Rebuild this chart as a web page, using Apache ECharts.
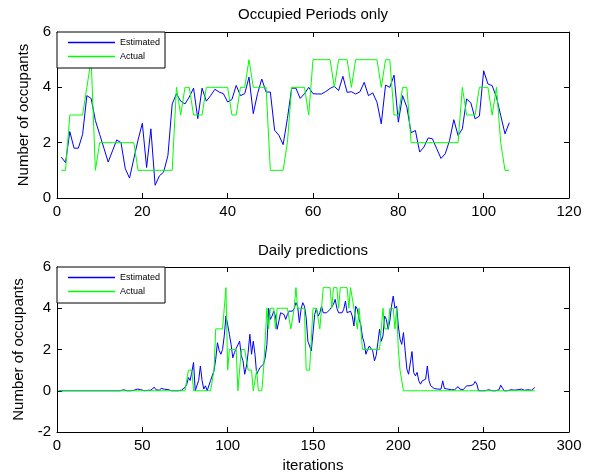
<!DOCTYPE html>
<html>
<head>
<meta charset="utf-8">
<script src="https://cdn.jsdelivr.net/npm/echarts@6/dist/echarts.min.js"></script>
<style>html,body{margin:0;padding:0;background:#fff;}#c{width:600px;height:475px;}</style>
</head>
<body>
<div id="c"></div>
<script>
// ---- Data ----
const topTitle = 'Occupied Periods only';
const bottomTitle = 'Daily predictions';
const seriesNames = ['Estimated', 'Actual'];
const yName = 'Number of occupants';
const xName = 'iterations';

// Top plot: occupied periods, x = 1..106
const occEstimated = [
  1.48,1.28,2.4,1.8,1.8,2.3,3.7,3.6,2.8,2.3,
  1.8,1.3,1.7,2.1,2.0,1.06,0.72,1.42,2.1,2.7,
  1.1,2.5,0.46,0.8,0.94,1.54,3.4,3.77,3.5,3.4,
  3.65,3.97,2.87,3.97,3.5,3.7,3.93,3.83,3.77,3.47,
  3.56,4.07,3.7,3.77,4.37,3.05,3.77,4.3,3.83,3.83,
  2.45,2.27,1.93,2.87,3.97,3.97,3.6,3.77,4.0,3.77,
  3.76,3.76,3.85,3.96,4.04,3.88,4.4,3.82,3.84,3.76,
  3.84,4.18,3.7,3.8,3.46,2.68,4.08,4.0,4.44,2.74,
  3.7,3.28,2.36,2.44,1.66,1.84,2.17,2.14,1.78,1.43,
  1.6,2.08,2.83,2.26,2.5,3.58,3.44,2.86,2.96,4.6,
  4.12,4.06,3.64,2.98,2.32,2.72
];
const occActual = [
  1,1,3,3,3,3,4,5,1,2,
  2,2,2,2,2,2,2,2,1,1,
  1,1,1,1,1,1,1,4,3,4,
  4,3,3,3,4,4,4,4,4,4,
  3,3,4,4,5,4,4,4,4,1,
  1,1,1,2,4,4,4,4,3,5,
  5,5,5,5,4,5,5,5,4,5,
  5,5,5,5,5,4,5,5,3,3,
  4,4,2,2,2,2,2,2,2,2,
  2,2,2,2,4,3,3,3,4,4,
  4,3,4,2,1,1
];

// Bottom plot: daily predictions, x = 1..280
const dailyEstimated = [
  0,0,0,0,0,0,0,0,0,0,
  0,0,0,0,0,0,0,0,0,0,
  0,0,0,0,0,0,0,0,0,0,
  0,0,0,0,0,0.06,0,0,0.05,0,
  0,0,0,0.05,0.02,0,0.08,0.02,0.06,0.02,
  0,0.06,0.02,0.1,0.03,0.05,0.17,0.05,0.08,0.02,
  0.12,0.04,0.07,0.02,0.06,0,0,0,0,0,
  0,0,0.03,0.05,0.16,0.3,0.64,0.5,0.9,1.37,
  0,0.08,0.5,1.2,0.5,0.08,0.24,0,0.05,0.5,
  0.45,0.97,1.53,2.33,1.96,1.77,2.0,2.66,3.62,3.2,
  2.74,2.25,1.6,1.85,2.06,2.1,2.4,1.7,1.45,0.8,
  1.2,1.85,2.74,1.77,2.4,1.77,0.8,0.97,1.13,1.05,
  1.29,1.6,2.25,4.0,3.46,3.62,3.86,3.62,2.98,3.38,
  3.78,3.86,3.7,3.46,3.7,3.86,3.78,3.86,4.0,4.27,
  4.1,3.3,3.95,4.27,4.1,3.54,2.4,2.17,1.93,2.8,
  3.7,4.0,3.62,3.78,4.1,3.78,3.78,3.78,3.78,3.95,
  4.0,4.19,4.43,4.0,3.78,3.86,3.78,3.95,4.35,3.78,
  3.78,3.86,3.62,3.14,4.1,3.95,3.46,3.2,2.6,2.33,
  1.77,2.0,2.17,2.17,1.93,1.45,1.7,2.33,2.98,2.4,
  2.66,3.62,3.46,2.98,3.38,4.1,4.59,4.0,4.1,3.14,
  2.5,2.25,2.82,1.93,1.05,0.8,0.72,1.9,0.89,0.72,
  0.89,0.48,0.32,0.48,0.4,0.56,1.2,0.48,0.24,0.16,
  0.11,0.11,0.08,0.05,0.08,0.48,0.11,0.06,0.08,0.05,
  0.05,0.03,0.05,0.08,0.2,0.08,0.03,0.05,0.1,0.24,
  0.27,0.24,0.2,0.3,0.45,0.32,0,0,0,0,
  0,0.02,0.05,0.08,0,0,0,0,0.05,0.27,
  0.27,0,0,0,0.02,0.05,0.08,0.03,0.03,0.05,
  0.03,0.08,0.03,0.02,0.05,0.05,0,0.02,0.08,0.16
];
const dailyActual = [
  0,0,0,0,0,0,0,0,0,0,
  0,0,0,0,0,0,0,0,0,0,
  0,0,0,0,0,0,0,0,0,0,
  0,0,0,0,0,0,0,0,0,0,
  0,0,0,0,0,0,0,0,0,0,
  0,0,0,0,0,0,0,0,0,0,
  0,0,0,0,0,0,0,0,0,0,
  0,0,0,0,0,0,1,1,1,0,
  0,0,0,0,0,0,0,0,0,0,
  0,1,3,3,3,3,3,4,5,1,
  2,2,2,2,2,0,0,2,2,2,
  2,1,1,1,0,0,1,0,0,0,
  1,1,4,3,4,4,4,3,4,4,
  4,4,4,4,4,4,3,3,4,5,
  4,4,4,4,4,1,1,1,1,4,
  4,4,4,3,4,5,5,5,5,5,
  4,5,5,5,4,5,5,5,5,5,
  4,5,5,4,4,3,4,4,2,2,
  2,2,2,2,2,2,2,2,2,2,
  4,3,3,3,4,4,4,3,4,2,
  1,1,0,0,0,0,0,0,0,0,
  0,0,0,0,0,0,0,0,0,0,
  0,0,0,0,0,0,0,0,0,0,
  0,0,0,0,0,0,0,0,0,0,
  0,0,0,0,0,0,0,0,0,0,
  0,0,0,0,0,0,0,0,0,0,
  0,0,0,0,0,0,0,0,0,0,
  0,0,0,0,0,0,0,0,0,0
];

// Axis ranges / ticks
const topX = {min: 0, max: 120, interval: 20};
const topY = {min: 0, max: 6, interval: 2};
const botX = {min: 0, max: 300, interval: 50};
const botY = {min: -2, max: 6, interval: 2};

// ---- Chart ----
const FONT = '"Liberation Sans", Arial, Helvetica, sans-serif';
const BLUE = '#0000ff', GREEN = '#00ff00';
const LINE_ICON = 'path://M0,0H47V1.5H0Z';
const toPairs = arr => arr.map((v, i) => [i + 1, v]);

function axisBase(grid, rng, pos, labels) {
  return {
    type: 'value', gridIndex: grid, position: pos,
    min: rng.min, max: rng.max, interval: rng.interval,
    axisLine: {show: true, onZero: false, lineStyle: {color: '#000', width: 1}},
    axisTick: {show: true, inside: true, length: 5, lineStyle: {color: '#000'}},
    axisLabel: {show: labels, margin: 6, color: '#000', fontSize: 15, fontFamily: FONT},
    splitLine: {show: false}
  };
}
function xAx(grid, rng, pos, labels, name) {
  const a = axisBase(grid, rng, pos, labels);
  if (name) {
    a.name = name; a.nameLocation = 'middle'; a.nameGap = 26;
    a.nameTextStyle = {color: '#000', fontSize: 15, fontFamily: FONT};
  }
  return a;
}
function yAx(grid, rng, pos, labels, name) {
  const a = axisBase(grid, rng, pos, labels);
  if (name) {
    a.name = name; a.nameLocation = 'middle'; a.nameGap = 25;
    a.nameTextStyle = {color: '#000', fontSize: 15, fontFamily: FONT};
  }
  return a;
}
function lineSeries(name, data, color, xi, yi) {
  return {
    name: name, type: 'line', xAxisIndex: xi, yAxisIndex: yi,
    data: toPairs(data), symbol: 'none', showSymbol: false,
    lineStyle: {color: color, width: 1}, itemStyle: {color: color},
    silent: true, animation: false
  };
}
function legendAt(top) {
  return {
    data: seriesNames.map(n => ({name: n, icon: LINE_ICON})),
    orient: 'vertical', left: 57, top: top,
    padding: [6, 5, 7, 11], itemGap: 5, itemWidth: 47, itemHeight: 10,
    symbolKeepAspect: true,
    borderColor: '#000', borderWidth: 1, backgroundColor: '#fff',
    textStyle: {fontSize: 9, color: '#000', fontFamily: FONT},
    selectedMode: false
  };
}

const chart = echarts.init(document.getElementById('c'), null, {renderer: 'canvas'});
chart.setOption({
  animation: false,
  backgroundColor: '#fff',
  title: [
    {text: topTitle, left: 313, top: 7, padding: 0, textAlign: 'center',
     textStyle: {fontSize: 15, fontWeight: 'normal', color: '#000', fontFamily: FONT}},
    {text: bottomTitle, left: 313, top: 243, padding: 0, textAlign: 'center',
     textStyle: {fontSize: 15, fontWeight: 'normal', color: '#000', fontFamily: FONT}}
  ],
  legend: [legendAt(32), legendAt(267)],
  grid: [
    {left: 57, top: 32, width: 512, height: 166, containLabel: false},
    {left: 57, top: 267, width: 512, height: 165, containLabel: false}
  ],
  xAxis: [
    xAx(0, topX, 'bottom', true),
    xAx(0, topX, 'top', false),
    xAx(1, botX, 'bottom', true, xName),
    xAx(1, botX, 'top', false)
  ],
  yAxis: [
    yAx(0, topY, 'left', true, yName),
    yAx(0, topY, 'right', false),
    yAx(1, botY, 'left', true, yName),
    yAx(1, botY, 'right', false)
  ],
  series: [
    lineSeries(seriesNames[0], occEstimated, BLUE, 0, 0),
    lineSeries(seriesNames[1], occActual, GREEN, 0, 0),
    lineSeries(seriesNames[0], dailyEstimated, BLUE, 2, 2),
    lineSeries(seriesNames[1], dailyActual, GREEN, 2, 2)
  ]
});
</script>
</body>
</html>
